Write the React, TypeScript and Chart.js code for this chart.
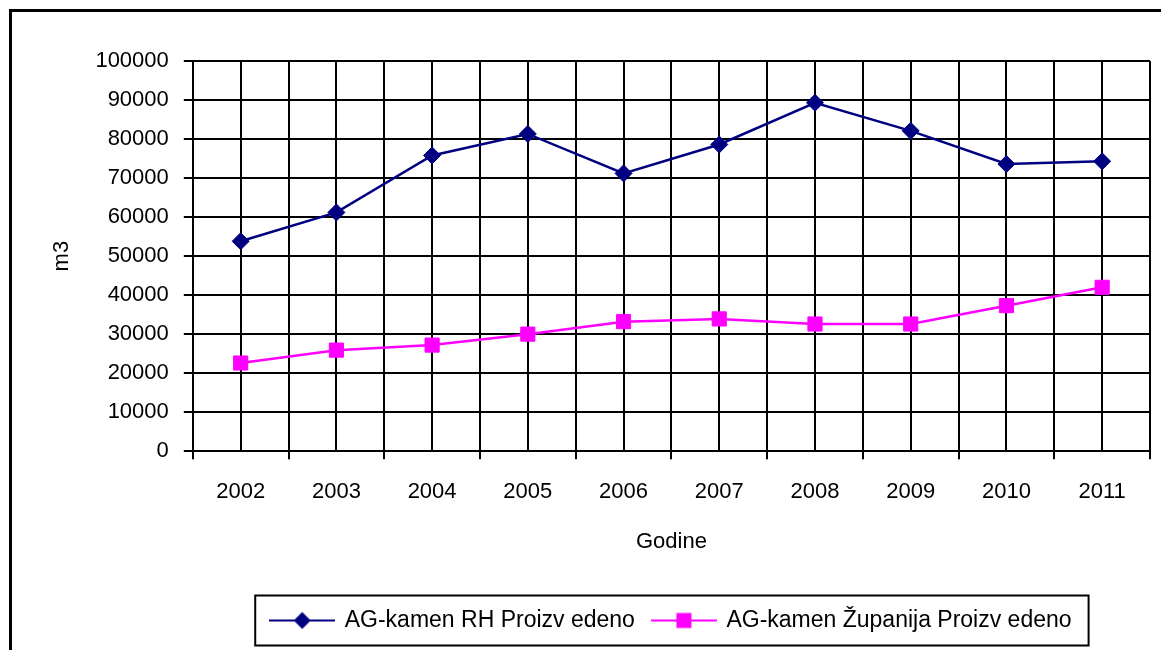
import React, { useEffect, useRef } from "react";
import { Chart, registerables } from "chart.js";

Chart.register(...registerables);

const years = ["2002", "2003", "2004", "2005", "2006", "2007", "2008", "2009", "2010", "2011"];
const rhValues = [53800, 61200, 75800, 81300, 71200, 78600, 89300, 82100, 73600, 74300];
const zupanijaValues = [22600, 25900, 27200, 30000, 33200, 33900, 32600, 32600, 37300, 42000];
const seriesNames = ["AG-kamen RH Proizv edeno", "AG-kamen Županija Proizv edeno"];
const seriesColors = ["#000080", "#FF00FF"];
const yMin = 0;
const yMax = 100000;
const yStep = 10000;
const yTitle = "m3";
const xTitle = "Godine";

const FONT = "'Liberation Sans', Arial, sans-serif";
const FS = 22;
const LFS = 23;

function makeIcon(kind: string, color: string) {
  const c = document.createElement("canvas");
  c.width = 66;
  c.height = 20;
  const g = c.getContext("2d")!;
  g.strokeStyle = color;
  g.lineWidth = 2;
  g.beginPath();
  g.moveTo(0, 10);
  g.lineTo(66, 10);
  g.stroke();
  g.fillStyle = color;
  if (kind === "diamond") {
    g.beginPath();
    g.moveTo(33, 1.5);
    g.lineTo(41.5, 10);
    g.lineTo(33, 18.5);
    g.lineTo(24.5, 10);
    g.closePath();
    g.fill();
  } else {
    g.fillRect(25.5, 2.5, 15, 15);
  }
  return c;
}

const legendBoxPlugin = {
  id: "legendBox",
  afterDraw(chart: any) {
    const lg = chart.legend;
    if (!lg || !lg.legendHitBoxes || !lg.legendHitBoxes.length) return;
    const hb = lg.legendHitBoxes;
    let l = Infinity, r = -Infinity, t = Infinity, b = -Infinity;
    for (const h of hb) {
      l = Math.min(l, h.left);
      r = Math.max(r, h.left + h.width);
      t = Math.min(t, h.top);
      b = Math.max(b, h.top + h.height);
    }
    const ctx = chart.ctx;
    ctx.save();
    ctx.strokeStyle = "#000";
    ctx.lineWidth = 2;
    ctx.strokeRect(l - 16, t - 13.5, r - l + 33, b - t + 27);
    ctx.restore();
  },
};

export default function App() {
  const ref = useRef<HTMLCanvasElement>(null);
  useEffect(() => {
    const icons = [makeIcon("diamond", seriesColors[0]), makeIcon("square", seriesColors[1])];
    const chart = new Chart(ref.current!, {
      type: "line",
      data: {
        labels: years,
        datasets: [
          {
            label: seriesNames[0],
            data: rhValues,
            borderColor: seriesColors[0],
            backgroundColor: seriesColors[0],
            borderWidth: 2.5,
            pointStyle: "rectRot",
            pointRadius: 8.5,
            pointBorderWidth: 1,
            tension: 0,
          },
          {
            label: seriesNames[1],
            data: zupanijaValues,
            borderColor: seriesColors[1],
            backgroundColor: seriesColors[1],
            borderWidth: 2.5,
            pointStyle: "rect",
            pointRadius: 10,
            pointBorderWidth: 1,
            tension: 0,
          },
        ],
      },
      options: {
        responsive: false,
        animation: false,
        layout: { padding: { top: 61, right: 11, left: 0, bottom: 8 } },
        plugins: {
          tooltip: { enabled: false },
          legend: {
            position: "bottom",
            fullSize: false,
            labels: {
              usePointStyle: true,
              pointStyleWidth: 62,
              padding: 18,
              color: "#000",
              font: { family: FONT, size: LFS },
              generateLabels: (ch: any) =>
                ch.data.datasets.map((ds: any, i: number) => ({
                  text: ds.label,
                  pointStyle: icons[i],
                  fillStyle: seriesColors[i],
                  strokeStyle: seriesColors[i],
                  lineWidth: 0,
                  hidden: false,
                  datasetIndex: i,
                  fontColor: "#000",
                })),
            },
          },
        },
        scales: {
          x: {
            type: "category",
            offset: true,
            grid: { offset: true, color: "#000", lineWidth: 2, tickLength: 8, tickColor: "#000" },
            border: { color: "#000", width: 2 },
            ticks: { color: "#000", padding: 20, font: { family: FONT, size: FS }, maxRotation: 0 },
            title: {
              display: true,
              text: xTitle,
              color: "#000",
              font: { family: FONT, size: FS },
              padding: { top: 3, bottom: 36 },
            },
          },
          x2: {
            type: "category",
            position: "top",
            labels: years,
            offset: true,
            grid: { offset: false, color: "#000", lineWidth: 2, drawTicks: false },
            border: { display: false },
            ticks: { display: false },
          },
          y: {
            min: yMin,
            max: yMax,
            grid: { color: "#000", lineWidth: 2, tickLength: 9, tickColor: "#000" },
            border: { color: "#000", width: 2 },
            ticks: {
              stepSize: yStep,
              color: "#000",
              padding: 15,
              font: { family: FONT, size: FS },
              callback: (v: any) => String(v),
            },
            title: {
              display: true,
              text: yTitle,
              color: "#000",
              font: { family: FONT, size: FS },
              padding: { top: 49, bottom: 5 },
            },
          },
        },
      } as any,
      plugins: [legendBoxPlugin],
    });
    return () => chart.destroy();
  }, []);

  return (
    <div style={{ position: "fixed", left: 0, top: 0, width: 1161, height: 650, overflow: "hidden", background: "#fff" }}>
      <div
        style={{
          position: "absolute",
          left: 9,
          top: 9,
          width: 1300,
          height: 800,
          border: "3px solid #000",
        }}
      />
      <canvas ref={ref} width={1161} height={650} style={{ position: "absolute", left: 0, top: 0, display: "block" }} />
    </div>
  );
}
